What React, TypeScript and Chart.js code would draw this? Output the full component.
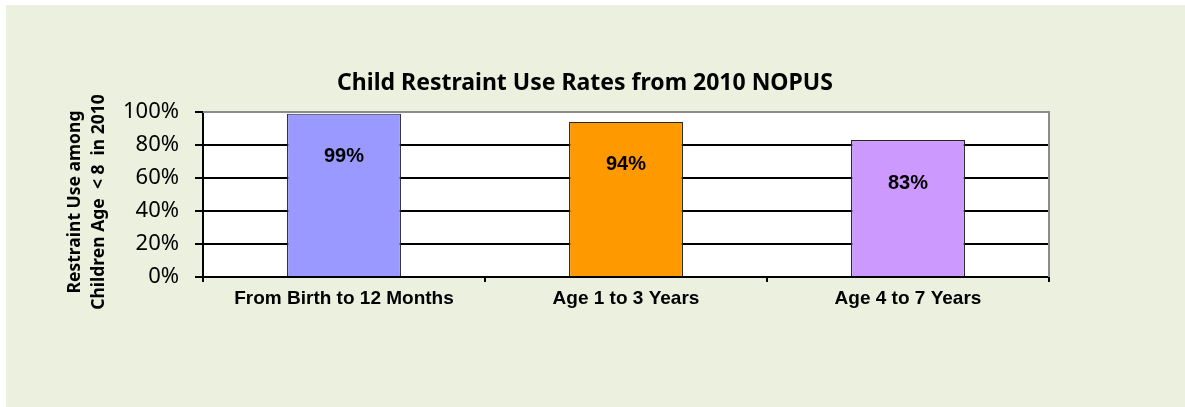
import { useEffect, useRef } from "react";
import { Chart, registerables } from "chart.js";

Chart.register(...registerables);

const categories = ["From Birth to 12 Months", "Age 1 to 3 Years", "Age 4 to 7 Years"];
const useRates = [99, 94, 83];
const barColors = ["#9999FF", "#FF9900", "#CC99FF"];
const yTickValues = [0, 20, 40, 60, 80, 100];
const chartTitle = "Child Restraint Use Rates from 2010 NOPUS";
const yAxisTitle = ["Restraint Use among", "Children Age  < 8  in 2010"];

const decorPlugin = {
  id: "decor",
  beforeDraw(chart: any) {
    const { ctx, width, height, chartArea: a } = chart;
    ctx.save();
    ctx.fillStyle = "#ffffff";
    ctx.fillRect(0, 0, width, height);
    ctx.fillStyle = "#EBF1DE";
    ctx.fillRect(6, 5, width - 6, height - 5);
    ctx.fillStyle = "#ffffff";
    ctx.fillRect(a.left, a.top, a.right - a.left, a.bottom - a.top);
    ctx.restore();
  },
  afterDatasetsDraw(chart: any) {
    const { ctx } = chart;
    const meta = chart.getDatasetMeta(0);
    ctx.save();
    ctx.font = "bold 20px 'Liberation Sans', Arial, sans-serif";
    ctx.fillStyle = "#000";
    ctx.textAlign = "center";
    ctx.textBaseline = "middle";
    meta.data.forEach((bar: any, i: number) => {
      ctx.fillText(useRates[i] + "%", bar.x, bar.y + 43);
    });
    ctx.restore();
  },
  afterDraw(chart: any) {
    const { ctx, chartArea: a } = chart;
    ctx.save();
    ctx.strokeStyle = "#8c8c8c";
    ctx.lineWidth = 2;
    ctx.beginPath();
    ctx.moveTo(a.left, a.top);
    ctx.lineTo(a.right, a.top);
    ctx.lineTo(a.right, a.bottom);
    ctx.stroke();

    ctx.fillStyle = "#000";
    ctx.textAlign = "center";
    ctx.textBaseline = "middle";
    ctx.font = "bold 23px 'Noto Sans', sans-serif";
    ctx.fillText(chartTitle, 585, 83);

    ctx.translate(87, 202);
    ctx.rotate(-Math.PI / 2);
    ctx.font = "bold 17.5px 'Noto Sans', sans-serif";
    ctx.fillText(yAxisTitle[0], 0, -12);
    ctx.fillText(yAxisTitle[1], 0, 12);
    ctx.restore();
  },
};

export default function App() {
  const canvasRef = useRef<HTMLCanvasElement | null>(null);

  useEffect(() => {
    document.body.style.margin = "0";
    const canvas = canvasRef.current;
    if (!canvas) return;
    const chart = new Chart(canvas, {
      type: "bar",
      data: {
        labels: categories,
        datasets: [
          {
            data: useRates,
            backgroundColor: barColors,
            borderColor: "#262626",
            borderWidth: 1.2,
            categoryPercentage: 1,
            barPercentage: 0.404,
          },
        ],
      },
      options: {
        responsive: false,
        animation: false,
        layout: { padding: { left: 0, top: 112, right: 136, bottom: 0 } },
        plugins: {
          legend: { display: false },
          title: { display: false },
          tooltip: { enabled: false },
        },
        scales: {
          x: {
            afterFit: (s: any) => {
              s.height = 130;
            },
            grid: {
              offset: true,
              drawOnChartArea: false,
              drawTicks: true,
              tickLength: 5,
              color: "#000",
              lineWidth: 2,
            },
            border: { display: true, color: "#000", width: 2 },
            ticks: {
              color: "#000",
              padding: 5,
              font: { family: "'Liberation Sans', Arial, sans-serif", size: 19, weight: "bold" },
            },
          },
          y: {
            min: 0,
            max: 100,
            afterFit: (s: any) => {
              s.width = 203;
            },
            afterBuildTicks: (s: any) => {
              s.ticks = yTickValues.map((v) => ({ value: v }));
            },
            grid: {
              color: (c: any) => (c.tick && c.tick.value === 100 ? "#8c8c8c" : "#000"),
              lineWidth: 2,
              tickLength: 8,
              tickColor: "#000",
              tickWidth: 2,
            },
            border: { display: true, color: "#000", width: 2 },
            ticks: {
              color: "#000",
              padding: 16,
              callback: (v: any) => v + "%",
              font: { family: "'Noto Sans', sans-serif", size: 22 },
            },
          },
        },
      },
      plugins: [decorPlugin],
    });
    return () => chart.destroy();
  }, []);

  return (
    <div style={{ width: 1185, height: 407 }}>
      <canvas ref={canvasRef} width={1185} height={407} style={{ display: "block" }} />
    </div>
  );
}
